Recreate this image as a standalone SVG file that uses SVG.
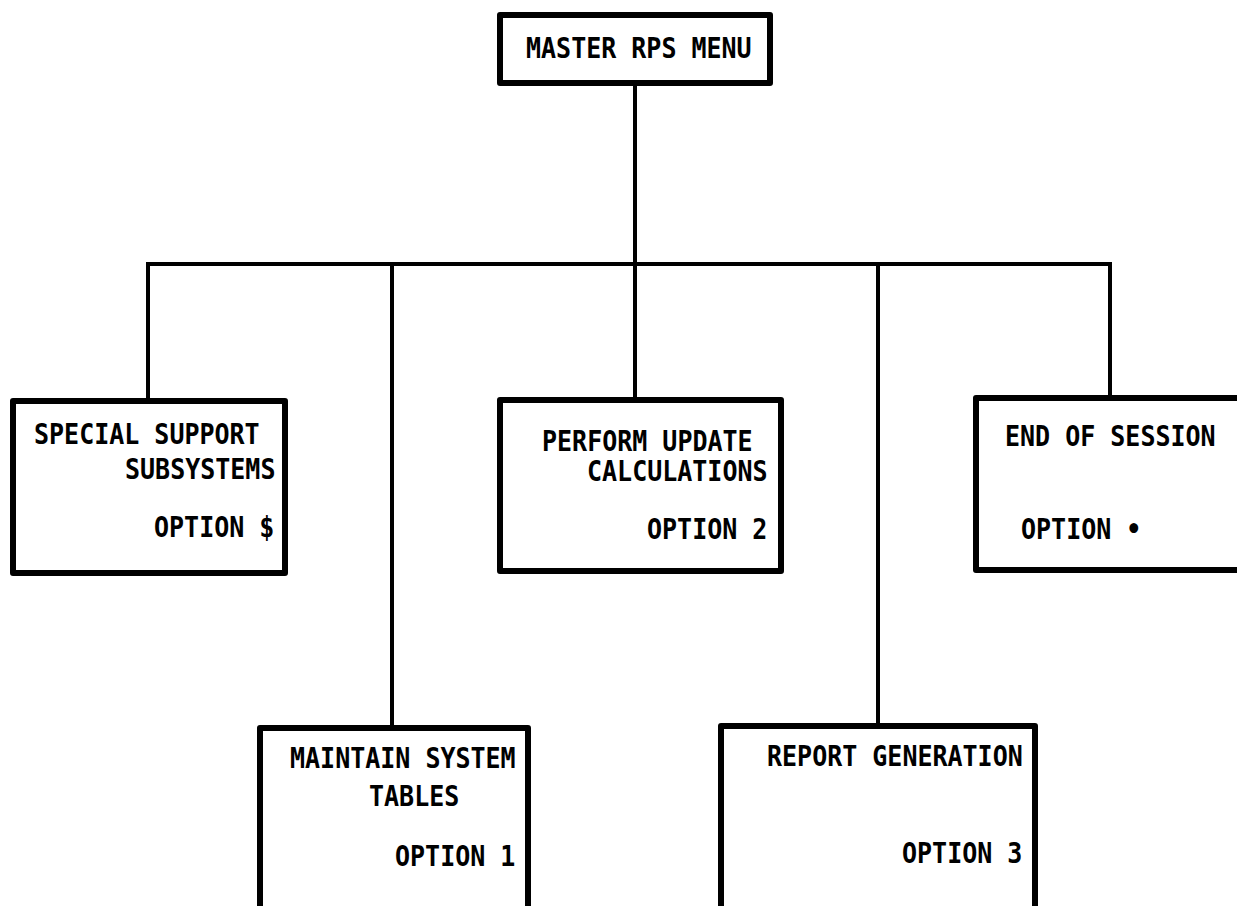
<svg xmlns="http://www.w3.org/2000/svg" width="1237" height="906" viewBox="0 0 1237 906">
<style>
.box{fill:#fff;stroke:#000;stroke-width:6;stroke-linejoin:round}
.ln{fill:none;stroke:#000;stroke-width:4;stroke-linecap:square}
text{font-family:"DejaVu Sans Mono","Liberation Mono",monospace;font-size:25px;font-weight:bold;fill:#000}
</style>
<rect width="1237" height="906" fill="#fff"/>
<g id="connectors">
<line class="ln" x1="635" y1="85" x2="635" y2="264"/>
<line class="ln" x1="148" y1="264" x2="1110" y2="264"/>
<line class="ln" x1="148" y1="264" x2="148" y2="400"/>
<line class="ln" x1="392" y1="264" x2="392" y2="727"/>
<line class="ln" x1="635" y1="264" x2="635" y2="399"/>
<line class="ln" x1="878" y1="264" x2="878" y2="725"/>
<line class="ln" x1="1110" y1="264" x2="1110" y2="397"/>
</g>
<g id="master">
<rect class="box" x="500" y="15" width="270" height="68"/>
<text transform="translate(526 58) scale(1 1.1)">MASTER RPS MENU</text>
</g>
<g id="special">
<rect class="box" x="13" y="401" width="272" height="172"/>
<text transform="translate(34 444) scale(1 1.1)">SPECIAL SUPPORT</text>
<text transform="translate(125 479) scale(1 1.1)">SUBSYSTEMS</text>
<text transform="translate(154 537) scale(1 1.1)">OPTION $</text>
</g>
<g id="perform">
<rect class="box" x="500" y="400" width="281" height="171"/>
<text transform="translate(542 451) scale(1 1.1)">PERFORM UPDATE</text>
<text transform="translate(587 481) scale(1 1.1)">CALCULATIONS</text>
<text transform="translate(647 539) scale(1 1.1)">OPTION 2</text>
</g>
<g id="end">
<rect class="box" x="976" y="398" width="280" height="172"/>
<text transform="translate(1005 446) scale(1 1.1)">END OF SESSION</text>
<text transform="translate(1021 539) scale(1 1.1)">OPTION •</text>
</g>
<g id="maintain">
<rect class="box" x="260" y="728" width="268" height="200"/>
<text transform="translate(290 768) scale(1 1.1)">MAINTAIN SYSTEM</text>
<text transform="translate(369 806) scale(1 1.1)">TABLES</text>
<text transform="translate(395 866) scale(1 1.1)">OPTION 1</text>
</g>
<g id="report">
<rect class="box" x="721" y="726" width="314" height="200"/>
<text transform="translate(767 766) scale(1 1.1)">REPORT GENERATION</text>
<text transform="translate(902 863) scale(1 1.1)">OPTION 3</text>
</g>
</svg>
